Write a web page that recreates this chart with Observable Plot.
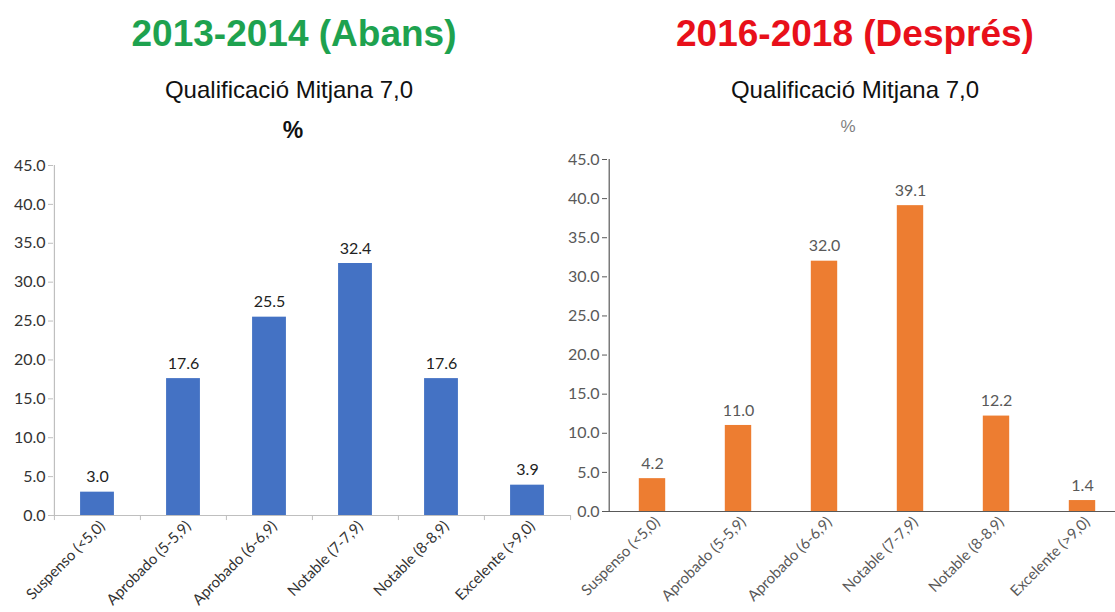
<!DOCTYPE html>
<html>
<head>
<meta charset="utf-8">
<script src="https://cdn.jsdelivr.net/npm/d3@7"></script>
<script src="https://cdn.jsdelivr.net/npm/@observablehq/plot@0.6"></script>
<style>
  html, body { margin: 0; padding: 0; background: #fff; }
  #page { position: relative; width: 1115px; height: 612px; overflow: hidden; font-family: "Liberation Sans", Arial, sans-serif; }
  .t { position: absolute; white-space: nowrap; transform: translateX(-50%); line-height: 1; }
  .chart { position: absolute; }
</style>
</head>
<body>
<div id="page">
  <div class="t" style="left:294px; top:15px; font-size:37px; font-weight:bold; color:#1ea24f;">2013-2014 (Abans)</div>
  <div class="t" style="left:289px; top:78px; font-size:24px; color:#111;">Qualificació Mitjana 7,0</div>
  <div class="t" style="left:293px; top:119px; font-size:23px; font-weight:bold; color:#111;">%</div>
  <div class="t" style="left:855px; top:15px; font-size:37px; font-weight:bold; color:#e8101a;">2016-2018 (Després)</div>
  <div class="t" style="left:855px; top:78px; font-size:24px; color:#111;">Qualificació Mitjana 7,0</div>
  <div class="t" style="left:848px; top:118px; font-size:17px; color:#7f7f7f;">%</div>
  <div id="left" class="chart" style="left:0px; top:150px;"></div>
  <div id="right" class="chart" style="left:555px; top:145px;"></div>
</div>
<script>
const categories = ["Suspenso (<5,0)", "Aprobado (5-5,9)", "Aprobado (6-6,9)", "Notable (7-7,9)", "Notable (8-8,9)", "Excelente (>9,0)"];
const before = [3.0, 17.6, 25.5, 32.4, 17.6, 3.9];
const after = [4.2, 11.0, 32.0, 39.1, 12.2, 1.4];
const yTicks = [0, 5, 10, 15, 20, 25, 30, 35, 40, 45];

const dataBefore = categories.map((c, i) => ({cat: c, v: before[i]}));
const dataAfter = categories.map((c, i) => ({cat: c, v: after[i]}));
const fmt = d => d.toFixed(1);

// Left chart
{
  const width = 575, height = 462, mL = 53, mR = 5;
  const bw = (width - mL - mR) / categories.length;
  const p = Plot.plot({
    width, height,
    marginLeft: mL, marginRight: mR, marginTop: 15, marginBottom: 97,
    style: {fontFamily: "Lato, sans-serif", fontSize: "16px", color: "#333", background: "transparent", overflow: "visible"},
    x: {domain: categories, padding: 0},
    y: {domain: [0, 45]},
    marks: [
      Plot.barY(dataBefore, {x: "cat", y: "v", fill: "#4472c4", insetLeft: (bw - 34) / 2, insetRight: (bw - 34) / 2}),
      Plot.ruleY([0], {stroke: "#bfbfbf", strokeWidth: 1.2}),
      Plot.ruleX([categories[0]], {dx: -bw / 2, y1: 0, y2: 45, stroke: "#bfbfbf", strokeWidth: 1.2}),
      Plot.ruleX(categories, {x: d => d, dx: -bw / 2, y1: 0, y2: -0.65, stroke: "#bfbfbf"}),
      Plot.ruleX([categories[categories.length - 1]], {dx: bw / 2, y1: 0, y2: -0.65, stroke: "#bfbfbf"}),
      Plot.axisY({ticks: yTicks, tickFormat: fmt, tickSize: 5, tickPadding: 3, stroke: "#bfbfbf", fill: "#333", fontSize: 16, label: null}),
      Plot.axisX({tickSize: 0, tickPadding: 8, dx: 5, tickRotate: -45, fill: "#333", fontSize: 15, label: null}),
      Plot.text(dataBefore, {x: "cat", y: "v", text: d => fmt(d.v), dy: -15, fill: "#222", fontSize: 16})
    ]
  });
  document.getElementById("left").appendChild(p);
}

// Right chart
{
  const width = 560, height = 467, mL = 52;
  const bw = 86.6;
  const p = Plot.plot({
    width, height,
    marginLeft: mL, marginRight: 0, marginTop: 14, marginBottom: 101,
    style: {fontFamily: "Lato, sans-serif", fontSize: "16px", color: "#595959", background: "transparent", overflow: "visible"},
    x: {domain: categories, padding: 0, range: [mL, mL + bw * categories.length]},
    y: {domain: [0, 45]},
    marks: [
      Plot.barY(dataAfter, {x: "cat", y: "v", fill: "#ed7d31", insetLeft: (bw - 27) / 2, insetRight: (bw - 27) / 2}),
      Plot.ruleY([0], {stroke: "#595959", strokeWidth: 1.2}),
      Plot.ruleX([categories[0]], {dx: -bw / 2, y1: 0, y2: 45, stroke: "#595959", strokeWidth: 1.2}),
      Plot.axisY({ticks: yTicks, tickFormat: fmt, tickSize: 5, tickPadding: 3, stroke: "#595959", fill: "#595959", fontSize: 16, label: null}),
      Plot.axisX({tickSize: 0, tickPadding: 8, dx: 5, tickRotate: -45, fill: "#595959", fontSize: 15, label: null}),
      Plot.text(dataAfter, {x: "cat", y: "v", text: d => fmt(d.v), dy: -15, fill: "#595959", fontSize: 16})
    ]
  });
  document.getElementById("right").appendChild(p);
}
</script>
</body>
</html>
